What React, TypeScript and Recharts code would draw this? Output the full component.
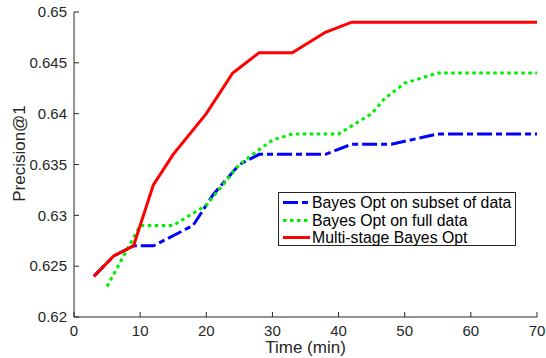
import { LineChart, Line, XAxis, YAxis, Legend } from "recharts";

// Bayes Opt on subset of data
const subsetTime = [3, 6, 9, 12, 18, 21, 25, 28, 38, 42, 48, 55, 70];
const subsetPrecision = [0.624, 0.626, 0.627, 0.627, 0.629, 0.632, 0.635, 0.636, 0.636, 0.637, 0.637, 0.638, 0.638];

// Bayes Opt on full data
const fullTime = [5, 10, 15, 20, 25, 27, 30, 33, 40, 42, 45, 47, 50, 55, 70];
const fullPrecision = [0.623, 0.629, 0.629, 0.631, 0.635, 0.636, 0.6374, 0.638, 0.638, 0.6388, 0.64, 0.6415, 0.643, 0.644, 0.644];

// Multi-stage Bayes Opt
const multiTime = [3, 6, 9, 10, 12, 15, 20, 24, 28, 33, 38, 42, 70];
const multiPrecision = [0.624, 0.626, 0.627, 0.629, 0.633, 0.636, 0.64, 0.644, 0.646, 0.646, 0.648, 0.649, 0.649];

const xTicks = [0, 10, 20, 30, 40, 50, 60, 70];
const yTicks = [0.62, 0.625, 0.63, 0.635, 0.64, 0.645, 0.65];

const toPoints = (xs: number[], ys: number[]) =>
  xs.map((time, i) => ({ time, precision: ys[i] }));

const series = [
  {
    name: "Bayes Opt on subset of data",
    color: "#0000ff",
    dash: "15 4 6 4",
    data: toPoints(subsetTime, subsetPrecision),
  },
  {
    name: "Bayes Opt on full data",
    color: "#00ee00",
    dash: "3.5 3.5",
    data: toPoints(fullTime, fullPrecision),
  },
  {
    name: "Multi-stage Bayes Opt",
    color: "#ff0000",
    dash: undefined,
    data: toPoints(multiTime, multiPrecision),
  },
];

const axisColor = "#262626";
const font = "'Liberation Sans', Arial, sans-serif";

const noLabel = () => <g />;

function LegendBox() {
  return (
    <div
      style={{
        border: `1px solid ${axisColor}`,
        background: "#fff",
        boxSizing: "border-box",
        width: "100%",
        height: "100%",
        paddingTop: 1,
        fontFamily: font,
      }}
    >
      {series.map((s) => (
        <div key={s.name} style={{ display: "flex", alignItems: "center", height: 17.5 }}>
          <svg width={33} height={17} style={{ flex: "none" }}>
            <line
              x1={4}
              x2={31}
              y1={8.5}
              y2={8.5}
              stroke={s.color}
              strokeWidth={3}
              strokeDasharray={s.dash}
            />
          </svg>
          <span style={{ fontSize: 15.8, color: "#000", whiteSpace: "nowrap", lineHeight: "17px" }}>
            {s.name}
          </span>
        </div>
      ))}
    </div>
  );
}

function renderYLabel(props: any) {
  const { x, y, height } = props.viewBox;
  const cx = x + 24.5;
  const cy = y + height / 2 - 11;
  return (
    <text
      x={cx}
      y={cy}
      transform={`rotate(-90 ${cx} ${cy})`}
      textAnchor="middle"
      fontSize={17}
      fontFamily={font}
      fill={axisColor}
    >
      Precision@1
    </text>
  );
}

export default function App() {
  return (
    <div style={{ position: "absolute", left: 0, top: 0, background: "#fff" }}>
      <LineChart
        width={546}
        height={358}
        margin={{ top: 12, right: 9, bottom: 0, left: 0 }}
        style={{ fontFamily: font }}
      >
        <XAxis
          dataKey="time"
          type="number"
          domain={[0, 70]}
          ticks={xTicks}
          height={41}
          stroke={axisColor}
          tickSize={-5}
          tickMargin={13}
          tick={{ fontSize: 15, fill: axisColor }}
          label={{ value: "Time (min)", position: "insideBottom", offset: 5, fontSize: 17, fill: axisColor }}
        />
        <XAxis
          xAxisId="top"
          orientation="top"
          dataKey="time"
          type="number"
          domain={[0, 70]}
          ticks={xTicks}
          height={0}
          stroke={axisColor}
          tickSize={-5}
          tick={noLabel}
        />
        <YAxis
          type="number"
          domain={[0.62, 0.65]}
          ticks={yTicks}
          width={74}
          stroke={axisColor}
          tickSize={-5}
          tickMargin={12}
          tick={{ fontSize: 15, fill: axisColor }}
          label={renderYLabel}
        />
        <YAxis
          yAxisId="right"
          orientation="right"
          type="number"
          domain={[0.62, 0.65]}
          ticks={yTicks}
          width={0}
          stroke={axisColor}
          tickSize={-5}
          tick={noLabel}
        />
        <Legend
          layout="horizontal"
          verticalAlign="middle"
          align="center"
          wrapperStyle={{ left: 278, top: 192, width: 238, height: 54 }}
          content={() => <LegendBox />}
        />
        {series.map((s) => (
          <Line
            key={s.name}
            data={s.data}
            dataKey="precision"
            name={s.name}
            type="linear"
            stroke={s.color}
            strokeWidth={3}
            strokeDasharray={s.dash}
            dot={false}
            activeDot={false}
            isAnimationActive={false}
          />
        ))}
      </LineChart>
    </div>
  );
}
